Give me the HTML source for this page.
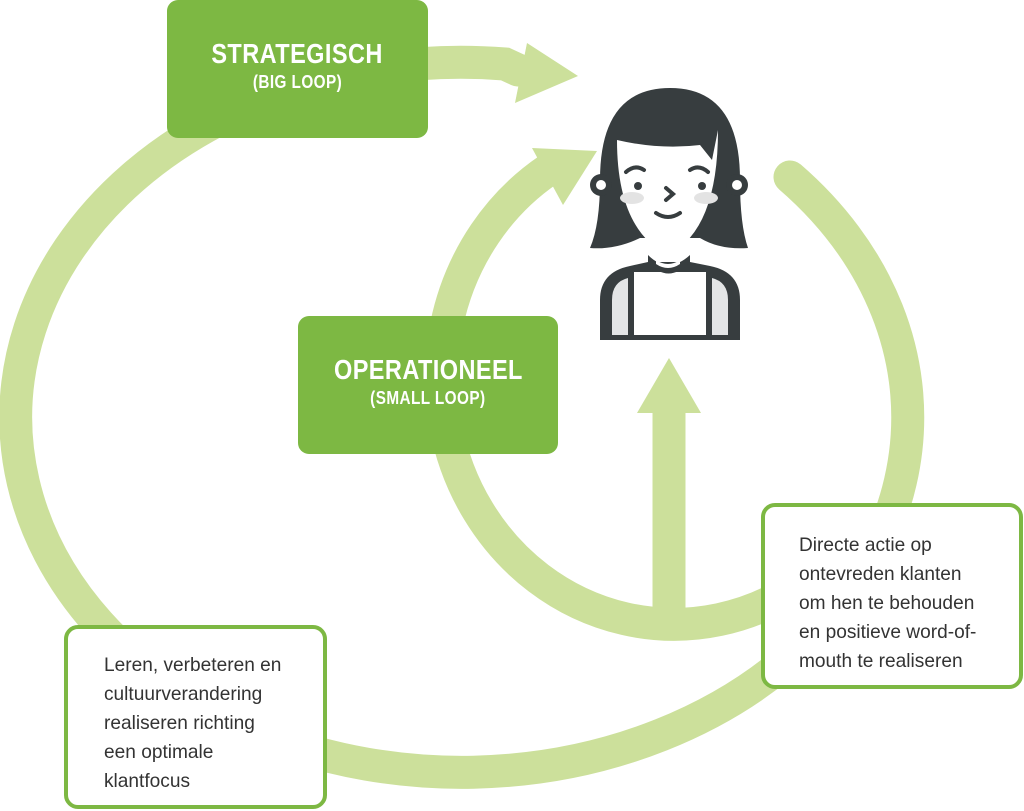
<!DOCTYPE html>
<html><head><meta charset="utf-8"><style>
html,body{margin:0;padding:0;background:#fff;}
body{width:1024px;height:811px;position:relative;overflow:hidden;font-family:"Liberation Sans",sans-serif;}
.gbox{position:absolute;background:#7db843;border-radius:11px;color:#fff;text-align:center;}
.gbox .t{font-size:28px;font-weight:bold;display:inline-block;transform:scaleX(0.84);letter-spacing:0.5px;}
.gbox .s{font-size:18px;font-weight:bold;display:inline-block;transform:scaleX(0.85);letter-spacing:0.5px;margin-top:2px;}
.wbox{position:absolute;background:#fff;border:4px solid #7db843;border-radius:14px;box-sizing:border-box;color:#333;font-size:19.5px;line-height:29px;}
.wbox span{display:inline-block;transform:scaleX(0.98);transform-origin:left top;}
</style></head><body>
<svg width="1024" height="811" style="position:absolute;left:0;top:0">
<g fill="none" stroke="#cce09b" stroke-width="33">
<path d="M790 177 A446 355 0 1 1 505 64 L518 70" stroke-linecap="round"/>
<path d="M800 585 A232 246 0 0 1 548 170"/>
<line x1="669" y1="612" x2="669" y2="410"/>
</g>
<g fill="#cce09b">
<polygon points="527,43 578,76 515,103"/>
<polygon points="532,148 597,151 563,205"/>
<polygon points="637,413 669,358 701,413"/>
</g>
<g>
<path d="M600 340 L600 300 Q600 272 630 266 L648 262 L690 262 L710 266 Q740 272 740 300 L740 340 Z" fill="#373d3f"/>
<path d="M612 335 L612 300 Q612 282 628 278 L628 335 Z" fill="#e3e5e6"/>
<path d="M728 335 L728 300 Q728 282 712 278 L712 335 Z" fill="#e3e5e6"/>
<rect x="634" y="272" width="72" height="63" fill="#fff"/>
<path d="M590 248 Q600 225 600 180 Q600 88 670 88 Q740 88 740 180 Q740 225 748 248 Q720 250 700 238 L640 238 Q615 250 590 248 Z" fill="#373d3f"/>
<circle cx="601" cy="185" r="11" fill="#373d3f"/><circle cx="601" cy="185" r="5" fill="#fff"/>
<circle cx="737" cy="185" r="11" fill="#373d3f"/><circle cx="737" cy="185" r="5" fill="#fff"/>
<path d="M617 140 Q660 150 700 145 L712 160 L718 130 Q718 230 668 255 Q617 230 617 140 Z" fill="#fff"/>
<path d="M648 255 Q668 275 690 255 L690 262 Q668 285 648 262 Z" fill="#373d3f"/>
<path d="M656 260 Q668 268 680 260 L680 264 Q668 272 656 264 Z" fill="#fff"/>
<g stroke="#373d3f" stroke-width="4" fill="none" stroke-linecap="round">
<path d="M626 172 Q635 164 644 170"/><path d="M690 170 Q699 164 708 172"/>
<path d="M666 188 L673 194 L666 200"/><path d="M656 213 Q668 221 680 213"/>
</g>
<circle cx="638" cy="186" r="4" fill="#373d3f"/><circle cx="702" cy="186" r="4" fill="#373d3f"/>
<ellipse cx="632" cy="198" rx="12" ry="6" fill="#e3e3e3"/><ellipse cx="706" cy="198" rx="12" ry="6" fill="#e3e3e3"/>
</g>
</svg>
<div class="gbox" style="left:167px;top:0;width:261px;height:138px;"><div style="margin-top:38px"><span class="t">STRATEGISCH</span></div><div><span class="s">(BIG LOOP)</span></div></div>
<div class="gbox" style="left:298px;top:316px;width:260px;height:138px;"><div style="margin-top:38px"><span class="t">OPERATIONEEL</span></div><div><span class="s">(SMALL LOOP)</span></div></div>
<div class="wbox" style="left:64px;top:625px;width:263px;height:184px;padding:22px 0 0 36px;"><span>Leren, verbeteren en<br>cultuurverandering<br>realiseren richting<br>een optimale<br>klantfocus</span></div>
<div class="wbox" style="left:761px;top:503px;width:262px;height:186px;padding:24px 0 0 34px;"><span>Directe actie op<br>ontevreden klanten<br>om hen te behouden<br>en positieve word-of-<br>mouth te realiseren</span></div>
</body></html>
